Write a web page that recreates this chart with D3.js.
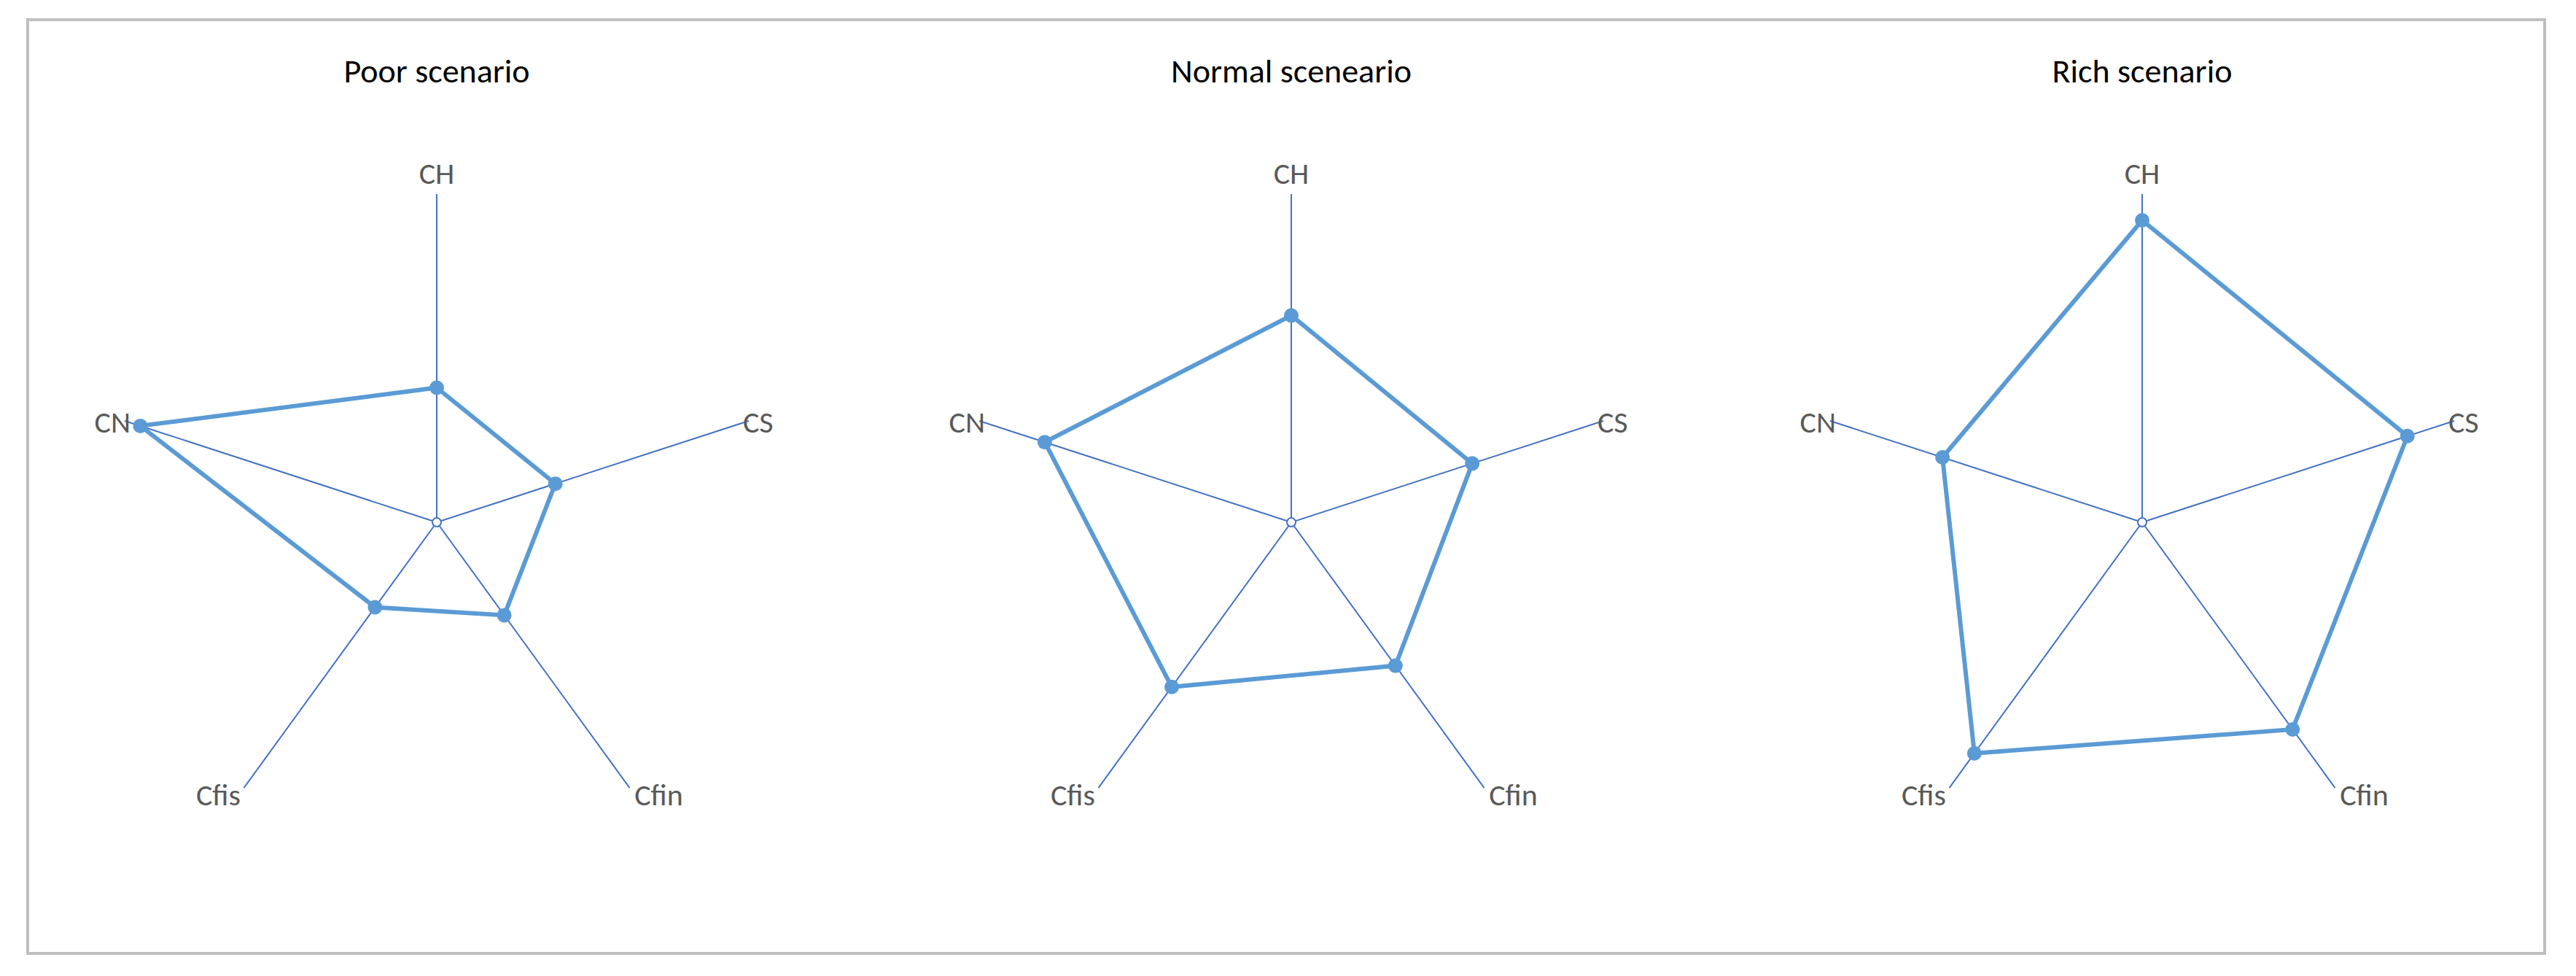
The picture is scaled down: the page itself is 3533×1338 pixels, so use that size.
<!DOCTYPE html><html><head><meta charset="utf-8">
<script src="https://cdn.jsdelivr.net/npm/d3@7"></script>
<style>body{margin:0;background:#fff}</style></head><body>
<svg id="c" width="3533" height="1338"></svg>
<script>
const axes = ["CH","CS","Cfin","Cfis","CN"];
const titles = ["Poor scenario","Normal sceneario","Rich scenario"];
const poor = [0.41,0.38,0.35,0.32,0.95];
const normal = [0.63,0.58,0.54,0.62,0.79];
const rich = [0.92,0.85,0.78,0.87,0.64];
const series = [poor, normal, rich];
const centersX = [599,1771,2938];

const svg = d3.select("#c");
svg.append("rect").attr("x",38).attr("y",27).attr("width",3452).attr("height",1280)
  .attr("fill","#fff").attr("stroke","#bfbfbf").attr("stroke-width",4);
const r = d3.scaleLinear().domain([0,1]).range([0,450]);
const ang = d3.scaleLinear().domain([0,axes.length]).range([0,2*Math.PI]);
const cy = 716;
series.forEach((vals,k)=>{
  const g = svg.append("g").attr("transform",`translate(${centersX[k]},${cy})`);
  g.append("text").attr("x",0).attr("y",99-cy+14).attr("text-anchor","middle")
    .attr("font-family","Calibri, Carlito, 'Liberation Sans', sans-serif").attr("font-size",46).attr("fill","#000").text(titles[k]);
  axes.forEach((a,i)=>{
    const t = ang(i), x = Math.sin(t)*r(1), y = -Math.cos(t)*r(1);
    g.append("line").attr("x1",0).attr("y1",0).attr("x2",x).attr("y2",y).attr("stroke","#4472c4").attr("stroke-width",2);
    let dx=0, dy=0, anchor="middle";
    if(i===0){dy=-14;}
    else if(i===1){dx=-8;dy=16;anchor="start";}
    else if(i===4){dx=8;dy=16;anchor="end";}
    else {dy=24;}
    if(i===2){dx=40;} if(i===3){dx=-35;}
    g.append("text").attr("x",x+dx).attr("y",y+dy).attr("text-anchor",anchor)
      .attr("font-family","Calibri, Carlito, 'Liberation Sans', sans-serif").attr("font-size",42).attr("fill","#595959").text(a);
  });
  const line = d3.lineRadial().angle((d,i)=>ang(i)).radius(d=>r(d)).curve(d3.curveLinearClosed);
  g.append("path").attr("d",line(vals)).attr("fill","none").attr("stroke","#5b9bd5").attr("stroke-width",6);
  vals.forEach((v,i)=>{
    const t=ang(i);
    g.append("circle").attr("cx",Math.sin(t)*r(v)).attr("cy",-Math.cos(t)*r(v)).attr("r",10).attr("fill","#5b9bd5");
  });
  g.append("circle").attr("r",6).attr("fill","#fff").attr("stroke","#4472c4").attr("stroke-width",2);
});
</script></body></html>
